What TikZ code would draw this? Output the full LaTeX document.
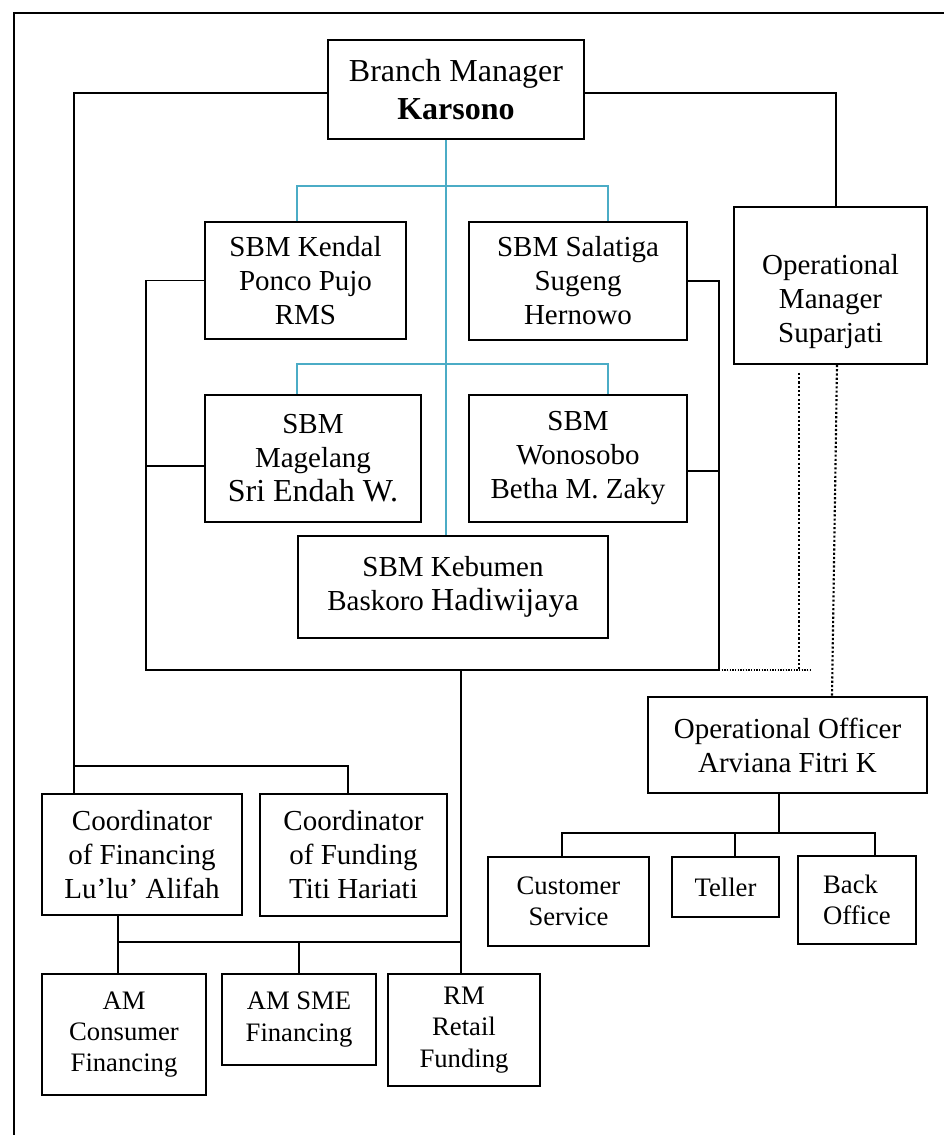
\documentclass[tikz,border=0pt]{standalone}
\usepackage{fontspec}
\setmainfont{Liberation Serif}
\usepackage{xcolor}
\usepackage{tikz}
\definecolor{lineteal}{RGB}{75,172,198}
\newcommand{\largename}[1]{{\fontsize{24}{28.5}\selectfont #1}}

\begin{document}
\begin{tikzpicture}[
    x=0.75pt, y=-0.75pt,
    block/.style={rectangle, draw, line width=1.4pt, align=center, inner sep=0pt},
    sz/.style 2 args={minimum width=#1*0.75pt, minimum height=#2*0.75pt},
    big/.style={font=\fontsize{24}{28.5}\selectfont},
    mid/.style={font=\fontsize{21.75}{25.5}\selectfont},
    small/.style={font=\fontsize{20}{23.5}\selectfont},
    link/.style={line width=1.1pt},
    tlink/.style={draw=lineteal, line width=1.2pt},
    dots/.style={line width=1.6pt, dash pattern=on 1.6pt off 1.6pt},
    thindots/.style={line width=0.9pt, dash pattern=on 0.9pt off 1.1pt}
]
    \useasboundingbox (0,0) rectangle (944,1135);
    \draw[link] (14,1135) -- (14,13) -- (944,13);

    \node[block, big, sz={256}{99}] (bm) at (456,89.5) {Branch Manager\\\textbf{Karsono}};
    \node[block, mid, sz={201}{117}] (kendal) at (305.5,280.5) {SBM Kendal\\Ponco Pujo\\RMS};
    \node[block, mid, sz={218}{118}] (salatiga) at (578,281) {SBM Salatiga\\Sugeng\\Hernowo};
    \node[block, mid, sz={216}{127}] (magelang) at (313,458.5) {SBM\\Magelang\\\largename{Sri Endah W.}};
    \node[block, mid, sz={218}{127}] (wonosobo) at (578,458.5) {SBM\\Wonosobo\\Betha M. Zaky};
    \node[block, mid, sz={310}{102}] (kebumen) at (453,587) {SBM Kebumen\\Baskoro \largename{Hadiwijaya}};
    \node[block, sz={193}{157},
          label={[mid, align=center, yshift=-12pt]center:Operational\\Manager\\Suparjati}] (opm) at (830.5,285.5) {};
    \node[block, mid, sz={279}{96}] (opo) at (787.5,745) {Operational Officer\\Arviana Fitri K};
    \node[block, small, sz={161}{89}] (cs) at (568.5,901.5) {Customer\\Service};
    \node[block, small, sz={107}{60}] (teller) at (725.5,887) {Teller};
    \node[block, small, sz={118}{88}, align=left] (backoff) at (857,900) {Back\\Office};
    \node[block, mid, sz={200}{121}] (cfin) at (142,854.5) {Coordinator\\of Financing\\Lu’lu’ Alifah};
    \node[block, mid, sz={187}{122}] (cfund) at (353.5,855) {Coordinator\\of Funding\\Titi Hariati};
    \node[block, small, sz={164}{121}] (amcons) at (124,1034.5) {AM\\Consumer\\Financing};
    \node[block, small, sz={154}{91}] (amsme) at (299,1019.5) {AM SME\\Financing};
    \node[block, small, sz={152}{112}] (rmret) at (464,1030) {RM\\Retail\\Funding};

    \coordinate (tj1) at (446,186);
    \coordinate (tj1l) at (297,186);
    \coordinate (tj1r) at (608,186);
    \coordinate (tj2l) at (297,364);
    \coordinate (tj2r) at (608,364);
    \coordinate (lj) at (74,93);
    \coordinate (rj) at (836,93);
    \coordinate (cj) at (74,766);
    \coordinate (cjr) at (348,766);
    \coordinate (sbl) at (146,670);
    \coordinate (sbr) at (719,670);
    \coordinate (sbm) at (461,670);
    \coordinate (mgj) at (146,466);
    \coordinate (wnj) at (719,471);
    \coordinate (dotx) at (799,670);
    \coordinate (dotend) at (810,670);
    \coordinate (dtop) at (837,364);
    \coordinate (dbot) at (832,697);
    \coordinate (amj) at (118,942);
    \coordinate (amr) at (461,942);
    \coordinate (ooj) at (779,833);
    \coordinate (oojl) at (562,833);
    \coordinate (oojm) at (735,833);
    \coordinate (oojr) at (875,833);

    \draw[tlink] (bm.south -| tj1) -- (kebumen.north -| tj1);
    \draw[tlink] (kendal.north -| tj1l) -- (tj1l) -- (tj1r) -- (salatiga.north -| tj1r);
    \draw[tlink] (magelang.north -| tj2l) -- (tj2l) -- (tj2r) -- (wonosobo.north -| tj2r);

    \draw[link] (bm.west |- lj) -- (lj) -- (cfin.north -| lj);
    \draw[link] (cj) -- (cjr) -- (cfund.north -| cjr);
    \draw[link] (bm.east |- rj) -- (rj) -- (opm.north -| rj);
    \draw[link] (kendal.west) -| (sbl) -- (sbr) |- (salatiga.east);
    \draw[link] (magelang.west |- mgj) -- (mgj);
    \draw[link] (wonosobo.east |- wnj) -- (wnj);
    \draw[link] (sbm) -- (rmret.north -| sbm);
    \draw[link] (cfin.south -| amj) -- (amcons.north -| amj);
    \draw[link] (amj) -- (amr);
    \draw[link] (amsme.north |- amr) -- (amsme.north);
    \draw[link] (opo.south -| ooj) -- (ooj);
    \draw[link] (cs.north -| oojl) -- (oojl) -- (oojr) -- (backoff.north -| oojr);
    \draw[link] (teller.north -| oojm) -- (oojm);

    \draw[dots, shorten <=6pt] (opm.south -| dotx) -- (dotx);
    \draw[dots] (opm.south -| dtop) -- (opo.north -| dbot);
    \draw[thindots] (sbr) -- (dotend);
\end{tikzpicture}
\end{document}
